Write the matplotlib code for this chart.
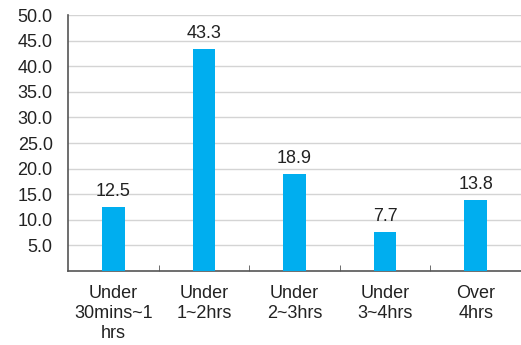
import numpy as np
import matplotlib.pyplot as plt

plt.rcParams['font.family'] = ['Liberation Sans', 'DejaVu Sans']

categories = ["Under\n30mins~1\nhrs", "Under\n1~2hrs", "Under\n2~3hrs", "Under\n3~4hrs", "Over\n4hrs"]
values = [12.5, 43.3, 18.9, 7.7, 13.8]
yticks = [5, 10, 15, 20, 25, 30, 35, 40, 45, 50]

fig = plt.figure(figsize=(5.21, 3.45), dpi=100)
ax = fig.add_axes([0.1305, 0.2145, 0.8695, 0.742])

x = np.arange(len(values))
ax.bar(x, values, width=0.25, color='#00AEEF', zorder=3)
for xi, v in zip(x, values):
    ax.annotate(f"{v:.1f}", (xi, v), xytext=(0, 5), textcoords='offset points',
                ha='center', va='bottom', fontsize=13, color='#222222')

ax.set_xlim(-0.5, len(values) - 0.5)
ax.set_ylim(0, 50)
ax.set_yticks(yticks)
ax.set_yticklabels([f"{t:.1f}" for t in yticks])
ax.set_xticks(x)
ax.set_xticklabels(categories, linespacing=1.25)
ax.set_xticks(np.arange(0.5, len(values) - 1, 1), minor=True)

ax.yaxis.grid(True, color='#d4d4d4', linewidth=1, zorder=0)
ax.tick_params(axis='y', length=0, pad=11, labelsize=13, labelcolor='#222222')
ax.tick_params(axis='x', which='major', length=0, pad=10, labelsize=13, labelcolor='#222222')
ax.tick_params(axis='x', which='minor', direction='in', length=4, color='#555555')

for s in ['top', 'right']:
    ax.spines[s].set_visible(False)
for s in ['left', 'bottom']:
    ax.spines[s].set_color('#555555')
    ax.spines[s].set_linewidth(1.2)

fig.savefig('out.png', dpi=100)
